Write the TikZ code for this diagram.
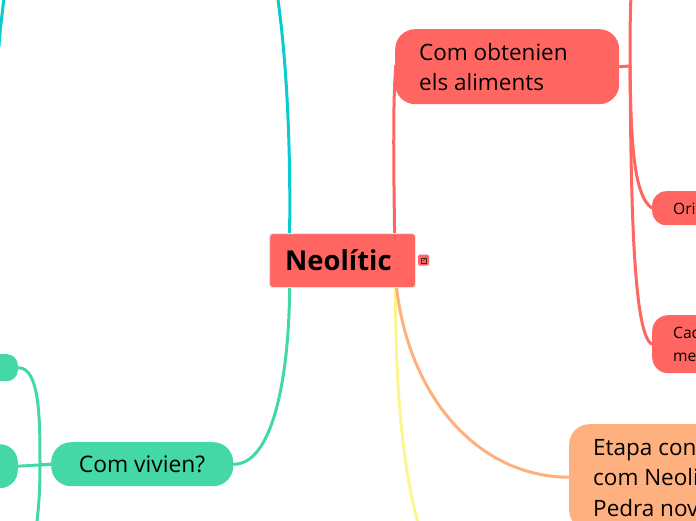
\documentclass[tikz,border=0pt]{standalone}
\usepackage{fontspec}
\setmainfont{Open Sans}
\usetikzlibrary{backgrounds}
\definecolor{redn}{HTML}{FF6662}
\definecolor{greenn}{HTML}{43D8A6}
\definecolor{orangen}{HTML}{FFB07F}
\definecolor{cyanl}{HTML}{0ACBD0}
\definecolor{yellowl}{HTML}{FBF68D}
\tikzset{
  x=1pt,y=-1pt,
  link/.style={line width=3pt,line cap=round},
  smalltxt/.style={font=\fontsize{15.6}{20}\selectfont,text=black,anchor=base west,inner sep=0pt},
  bigtxt/.style={font=\fontsize{22.5}{28}\selectfont,text=black,anchor=base west,inner sep=0pt},
  topicbox/.style={inner sep=0pt,minimum width=#1},
}
\begin{document}
\begin{tikzpicture}
\useasboundingbox (0,0) rectangle (696,520);
\begin{scope}
\clip (0,0) rectangle (696,520);
% central topic
\node[draw=black!10,line width=1.2pt,fill=redn,rounded corners=3pt,anchor=north west,topicbox=146pt,minimum height=54pt] (main) at (269,233) {};
\node[font=\bfseries\fontsize{27.4}{32}\selectfont,anchor=base west,inner sep=0pt] (maint) at (285,270.5) {Neolític};
% external-link marker
\node[fill=redn,rounded corners=1.5pt,minimum size=11pt,inner sep=0pt] (mark) at (423.5,260) {};
\draw[black!80,line width=.6pt] (421,258) rectangle (426,263);
\draw[black!80,line width=.6pt] (423,261) -- (426.5,257.5);
% red branch
\node[fill=redn,rounded corners=20pt,anchor=north west,topicbox=224pt,minimum height=75pt] (food) at (395,29) {};
\node[bigtxt] (foodt1) at (419,60) {Com obtenien};
\node[bigtxt] (foodt2) at (419,90) {els aliments};
\node[fill=redn,rounded corners=14pt,anchor=north west,topicbox=80pt,minimum height=34pt] (ori) at (652,191) {};
\node[smalltxt] (orit) at (673,214.5) {Ori};
\node[fill=redn,rounded corners=16pt,anchor=north west,topicbox=80pt,minimum height=58pt] (cac) at (652,315) {};
\node[smalltxt] (cact1) at (673,338) {Cac};
\node[smalltxt] (cact2) at (673,361) {me};
% orange branch
\node[fill=orangen,rounded corners=20pt,anchor=north west,topicbox=200pt,minimum height=106pt] (etapa) at (569,424) {};
\node[bigtxt] (et1) at (593,455) {Etapa con};
\node[bigtxt] (et2) at (593,485.5) {com Neoli};
\node[bigtxt] (et3) at (593,516) {Pedra nov};
% green branch
\node[fill=greenn,rounded corners=20pt,anchor=north west,topicbox=182pt,minimum height=44pt] (viv) at (51,442) {};
\node[font=\fontsize{22.8}{26}\selectfont,anchor=base,inner sep=0pt] (vivt) at (142,472.5) {Com vivien?};
\node[fill=greenn,rounded corners=11pt,anchor=north east,topicbox=60pt,minimum height=27pt] (g1) at (18,354) {};
\node[fill=greenn,rounded corners=18pt,anchor=north east,topicbox=60pt,minimum height=44pt] (g2) at (18,444) {};
\end{scope}
\begin{pgfonlayer}{background}
\clip (0,0) rectangle (696,520);
% central to top-level
\draw[link,cyanl] ([xshift=-53pt]main.north) .. controls (291,130) and (285,40) .. (275,-20);
\draw[link,cyanl] (-1,46) .. controls (0,30) and (2,15) .. (5,-10);
\draw[link,greenn] ([xshift=-53pt]main.south) .. controls (289,380) and (272,465) .. (viv.east);
\draw[link,redn] ([xshift=52pt]main.north) .. controls (393.5,160) and (393,90) .. (396,66) -- (food.west);
\draw[link,yellowl] ([xshift=53pt]main.south) .. controls (395,400) and (405,480) .. (420,530);
\draw[link,orangen] ([xshift=54pt]main.south) .. controls (410,400) and (480,477) .. (etapa.west);
% red sub-branches
\draw[link,redn] (food.east) -- (630,66) .. controls (630,40) and (630,20) .. (631,-5);
\draw[link,redn] (630,66) .. controls (631,130) and (632,195) .. (ori.west);
\draw[link,redn] (630,66) .. controls (631,180) and (632,335) .. (cac.west);
% green sub-branches
\draw[link,greenn] (viv.west) -- (g2.east);
\draw[link,greenn] (viv.west) -- (40,465) .. controls (40,420) and (40,367) .. (g1.east);
\draw[link,greenn] (40,465) .. controls (40,490) and (39,505) .. (36,530);
\end{pgfonlayer}
\end{tikzpicture}
\end{document}
